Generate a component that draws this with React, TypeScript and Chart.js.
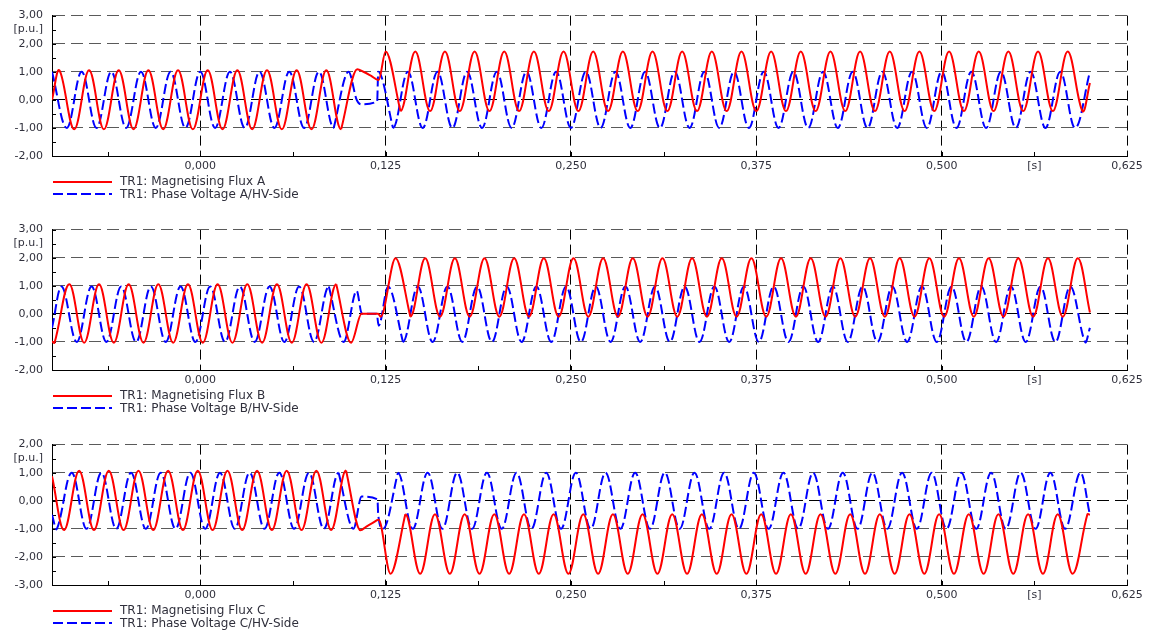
import React, { useEffect, useRef } from 'react';
import { Chart, registerables } from 'chart.js';

Chart.register(...registerables);
Chart.defaults.font.family = '"DejaVu Sans", sans-serif';
Chart.defaults.font.size = 11;

// ---------- time axis (seconds) ----------
const X_MIN = -0.1;
const X_MAX = 0.625;
const X_TICKS = [-0.0625, 0, 0.0625, 0.125, 0.1875, 0.25, 0.3125, 0.375, 0.4375, 0.5, 0.5625, 0.625];
const X_TICK_LABELS = ['', '0,000', '', '0,125', '', '0,250', '', '0,375', '', '0,500', '[s]', '0,625'];

// ---------- value axes (p.u.) ----------
const Y_TICKS_AB = [-2, -1.5, -1, -0.5, 0, 0.5, 1, 1.5, 2, 2.5, 3];
const Y_LABELS_AB = ['-2,00', '', '-1,00', '', '0,00', '', '1,00', '', '2,00', '[p.u.]', '3,00'];
const Y_TICKS_C = [-3, -2.5, -2, -1.5, -1, -0.5, 0, 0.5, 1, 1.5, 2];
const Y_LABELS_C = ['-3,00', '', '-2,00', '', '-1,00', '', '0,00', '', '1,00', '[p.u.]', '2,00'];

// ---------- series: extremum / break points (time in ms, value in p.u.) ----------
const FLUX_A_MS = [
  -100, -95, -85, -75, -65, -55, -45, -35, -25, -15, -5,
  5, 15, 25, 35, 45, 55, 65, 75, 85, 95,
  105.9, 110, 115, 120.3,
  125, 135, 145, 155, 165, 175, 185, 195, 205, 215,
  225, 235, 245, 255, 265, 275, 285, 295, 305, 315,
  325, 335, 345, 355, 365, 375, 385, 395, 405, 415,
  425, 435, 445, 455, 465, 475, 485, 495, 505, 515,
  525, 535, 545, 555, 565, 575, 585, 595,
  600,
];
const FLUX_A = [
  0, 1.05, -1.05, 1.05, -1.05, 1.05, -1.05, 1.05, -1.05, 1.05, -1.05,
  1.05, -1.05, 1.05, -1.05, 1.05, -1.05, 1.05, -1.05, 1.05, -1.05,
  1.09, 1.0, 0.86, 0.7,
  1.72, -0.4, 1.72, -0.4, 1.72, -0.4, 1.72, -0.4, 1.72, -0.4,
  1.72, -0.4, 1.72, -0.4, 1.72, -0.4, 1.72, -0.4, 1.72, -0.4,
  1.72, -0.4, 1.72, -0.4, 1.72, -0.4, 1.72, -0.4, 1.72, -0.4,
  1.72, -0.4, 1.72, -0.4, 1.72, -0.4, 1.72, -0.4, 1.72, -0.4,
  1.72, -0.4, 1.72, -0.4, 1.72, -0.4, 1.72, -0.4,
  0.6,
];
// [last regular point before the switching event, first regular point after it]
const FLUX_A_SPLIT = [20, 26];

const VOLT_A_MS = [
  -100, -90, -80, -70, -60, -50, -40, -30, -20, -10,
  0, 10, 20, 30, 40, 50, 60, 70, 80, 90, 100,
  105.5, 108.4, 119.3,
  120, 130, 140, 150, 160, 170, 180, 190, 200, 210,
  220, 230, 240, 250, 260, 270, 280, 290, 300, 310,
  320, 330, 340, 350, 360, 370, 380, 390, 400, 410,
  420, 430, 440, 450, 460, 470, 480, 490, 500, 510,
  520, 530, 540, 550, 560, 570, 580, 590, 600,
];
const VOLT_A = [
  1, -1, 1, -1, 1, -1, 1, -1, 1, -1,
  1, -1, 1, -1, 1, -1, 1, -1, 1, -1, 1,
  0, -0.16, -0.05,
  1, -1, 1, -1, 1, -1, 1, -1, 1, -1,
  1, -1, 1, -1, 1, -1, 1, -1, 1, -1,
  1, -1, 1, -1, 1, -1, 1, -1, 1, -1,
  1, -1, 1, -1, 1, -1, 1, -1, 1, -1,
  1, -1, 1, -1, 1, -1, 1, -1, 1,
];
const VOLT_A_SPLIT = [19, 25];

const FLUX_B_MS = [
  -100,
  -98.3, -88.3, -78.3, -68.3, -58.3, -48.3, -38.3, -28.3, -18.3, -8.3,
  1.7, 11.7, 21.7, 31.7, 41.7, 51.7, 61.7, 71.7, 81.7, 91.7, 101.7,
  108.8, 120, 121.7,
  131.7, 141.7, 151.7, 161.7, 171.7, 181.7, 191.7, 201.7, 211.7, 221.7,
  231.7, 241.7, 251.7, 261.7, 271.7, 281.7, 291.7, 301.7, 311.7, 321.7,
  331.7, 341.7, 351.7, 361.7, 371.7, 381.7, 391.7, 401.7, 411.7, 421.7,
  431.7, 441.7, 451.7, 461.7, 471.7, 481.7, 491.7, 501.7, 511.7, 521.7,
  531.7, 541.7, 551.7, 561.7, 571.7, 581.7, 591.7,
  600,
];
const FLUX_B = [
  -0.98,
  -1.03, 1.05, -1.03, 1.05, -1.03, 1.05, -1.03, 1.05, -1.03, 1.05,
  -1.03, 1.05, -1.03, 1.05, -1.03, 1.05, -1.03, 1.05, -1.03, 1.05, -1.03,
  0, 0, -0.1,
  1.98, -0.1, 1.98, -0.1, 1.98, -0.1, 1.98, -0.1, 1.98, -0.1,
  1.98, -0.1, 1.98, -0.1, 1.98, -0.1, 1.98, -0.1, 1.98, -0.1,
  1.98, -0.1, 1.98, -0.1, 1.98, -0.1, 1.98, -0.1, 1.98, -0.1,
  1.98, -0.1, 1.98, -0.1, 1.98, -0.1, 1.98, -0.1, 1.98, -0.1,
  1.98, -0.1, 1.98, -0.1, 1.98, -0.1, 1.98,
  0.05,
];
const FLUX_B_SPLIT = [20, 26];

const VOLT_B_MS = [
  -100,
  -93.3, -83.3, -73.3, -63.3, -53.3, -43.3, -33.3, -23.3, -13.3, -3.3,
  6.7, 16.7, 26.7, 36.7, 46.7, 56.7, 66.7, 76.7, 86.7, 96.7,
  105.5, 109, 119, 120.3,
  126.7, 136.7, 146.7, 156.7, 166.7, 176.7, 186.7, 196.7, 206.7, 216.7,
  226.7, 236.7, 246.7, 256.7, 266.7, 276.7, 286.7, 296.7, 306.7, 316.7,
  326.7, 336.7, 346.7, 356.7, 366.7, 376.7, 386.7, 396.7, 406.7, 416.7,
  426.7, 436.7, 446.7, 456.7, 466.7, 476.7, 486.7, 496.7, 506.7, 516.7,
  526.7, 536.7, 546.7, 556.7, 566.7, 576.7, 586.7, 596.7,
  600,
];
const VOLT_B = [
  -0.5,
  0.97, -1, 0.97, -1, 0.97, -1, 0.97, -1, 0.97, -1,
  0.97, -1, 0.97, -1, 0.97, -1, 0.97, -1, 0.97, -1,
  0.82, 0, 0, -0.42,
  0.97, -1, 0.97, -1, 0.97, -1, 0.97, -1, 0.97, -1,
  0.97, -1, 0.97, -1, 0.97, -1, 0.97, -1, 0.97, -1,
  0.97, -1, 0.97, -1, 0.97, -1, 0.97, -1, 0.97, -1,
  0.97, -1, 0.97, -1, 0.97, -1, 0.97, -1, 0.97, -1,
  0.97, -1, 0.97, -1, 0.97, -1, 0.97, -1,
  -0.5,
];
const VOLT_B_SPLIT = [19, 26];

const FLUX_C_MS = [
  -100,
  -91.7, -81.7, -71.7, -61.7, -51.7, -41.7, -31.7, -21.7, -11.7, -1.7,
  8.3, 18.3, 28.3, 38.3, 48.3, 58.3, 68.3, 78.3, 88.3, 98.3,
  108, 112, 116, 120.3,
  128.3, 138.3, 148.3, 158.3, 168.3, 178.3, 188.3, 198.3, 208.3, 218.3,
  228.3, 238.3, 248.3, 258.3, 268.3, 278.3, 288.3, 298.3, 308.3, 318.3,
  328.3, 338.3, 348.3, 358.3, 368.3, 378.3, 388.3, 398.3, 408.3, 418.3,
  428.3, 438.3, 448.3, 458.3, 468.3, 478.3, 488.3, 498.3, 508.3, 518.3,
  528.3, 538.3, 548.3, 558.3, 568.3, 578.3, 588.3, 598.3,
  600,
];
const FLUX_C = [
  0.87,
  -1.04, 1.07, -1.04, 1.07, -1.04, 1.07, -1.04, 1.07, -1.04, 1.07,
  -1.04, 1.07, -1.04, 1.07, -1.04, 1.07, -1.04, 1.07, -1.04, 1.08,
  -1.05, -0.92, -0.8, -0.68,
  -2.6, -0.48, -2.6, -0.48, -2.6, -0.48, -2.6, -0.48, -2.6, -0.48,
  -2.6, -0.48, -2.6, -0.48, -2.6, -0.48, -2.6, -0.48, -2.6, -0.48,
  -2.6, -0.48, -2.6, -0.48, -2.6, -0.48, -2.6, -0.48, -2.6, -0.48,
  -2.6, -0.48, -2.6, -0.48, -2.6, -0.48, -2.6, -0.48, -2.6, -0.48,
  -2.6, -0.48, -2.6, -0.48, -2.6, -0.48, -2.6, -0.48,
  -0.5,
];
const FLUX_C_SPLIT = [20, 26];

const VOLT_C_MS = [
  -100,
  -96.7, -86.7, -76.7, -66.7, -56.7, -46.7, -36.7, -26.7, -16.7, -6.7,
  3.3, 13.3, 23.3, 33.3, 43.3, 53.3, 63.3, 73.3, 83.3, 93.3, 103.3,
  108.8, 119.5, 120,
  123.3, 133.3, 143.3, 153.3, 163.3, 173.3, 183.3, 193.3, 203.3, 213.3,
  223.3, 233.3, 243.3, 253.3, 263.3, 273.3, 283.3, 293.3, 303.3, 313.3,
  323.3, 333.3, 343.3, 353.3, 363.3, 373.3, 383.3, 393.3, 403.3, 413.3,
  423.3, 433.3, 443.3, 453.3, 463.3, 473.3, 483.3, 493.3, 503.3, 513.3,
  523.3, 533.3, 543.3, 553.3, 563.3, 573.3, 583.3, 593.3,
  600,
];
const VOLT_C = [
  -0.5,
  -1, 1, -1, 1, -1, 1, -1, 1, -1, 1,
  -1, 1, -1, 1, -1, 1, -1, 1, -1, 1, -1,
  0.15, 0.05, -0.5,
  -1, 1, -1, 1, -1, 1, -1, 1, -1, 1,
  -1, 1, -1, 1, -1, 1, -1, 1, -1, 1,
  -1, 1, -1, 1, -1, 1, -1, 1, -1, 1,
  -1, 1, -1, 1, -1, 1, -1, 1, -1, 1,
  -1, 1, -1, 1, -1, 1, -1, 1,
  -0.5,
];
const VOLT_C_SPLIT = [20, 26];

const LABEL_FLUX = ['TR1: Magnetising Flux A', 'TR1: Magnetising Flux B', 'TR1: Magnetising Flux C'];
const LABEL_VOLT = ['TR1: Phase Voltage A/HV-Side', 'TR1: Phase Voltage B/HV-Side', 'TR1: Phase Voltage C/HV-Side'];

// ---------- styling ----------
const RED = '#ff0000';
const BLUE = '#0000ff';
const TEXT_COLOR = '#30303c';
const H_GRID = '#5a5a5a';
const V_GRID = '#000000';
const CLEAR = 'rgba(0,0,0,0)';
const WAVE_TENSION = 0.37;

type Series = { label: string; ms: number[]; v: number[]; split: number[]; color: string; dash: number[] };
type PanelSpec = {
  top: number;
  height: number;
  padBottom: number;
  yMin: number;
  yMax: number;
  yTicks: number[];
  yLabels: string[];
  series: Series[];
};

const PANELS: PanelSpec[] = [
  {
    top: 0, height: 214, padBottom: 38, yMin: -2, yMax: 3, yTicks: Y_TICKS_AB, yLabels: Y_LABELS_AB,
    series: [
      { label: LABEL_FLUX[0], ms: FLUX_A_MS, v: FLUX_A, split: FLUX_A_SPLIT, color: RED, dash: [] },
      { label: LABEL_VOLT[0], ms: VOLT_A_MS, v: VOLT_A, split: VOLT_A_SPLIT, color: BLUE, dash: [10, 4] },
    ],
  },
  {
    top: 214, height: 214, padBottom: 38, yMin: -2, yMax: 3, yTicks: Y_TICKS_AB, yLabels: Y_LABELS_AB,
    series: [
      { label: LABEL_FLUX[1], ms: FLUX_B_MS, v: FLUX_B, split: FLUX_B_SPLIT, color: RED, dash: [] },
      { label: LABEL_VOLT[1], ms: VOLT_B_MS, v: VOLT_B, split: VOLT_B_SPLIT, color: BLUE, dash: [10, 4] },
    ],
  },
  {
    top: 429, height: 201, padBottom: 25, yMin: -3, yMax: 2, yTicks: Y_TICKS_C, yLabels: Y_LABELS_C,
    series: [
      { label: LABEL_FLUX[2], ms: FLUX_C_MS, v: FLUX_C, split: FLUX_C_SPLIT, color: RED, dash: [] },
      { label: LABEL_VOLT[2], ms: VOLT_C_MS, v: VOLT_C, split: VOLT_C_SPLIT, color: BLUE, dash: [10, 4] },
    ],
  },
];

function toPoints(ms: number[], v: number[]) {
  return ms.map((m, i) => ({ x: m / 1000, y: v[i] }));
}

// steady-state parts use a smooth spline, the switching transient a monotone one
function seriesDatasets(s: Series) {
  const pts = toPoints(s.ms, s.v);
  const [a, b] = s.split;
  const base = {
    label: s.label,
    borderColor: s.color,
    backgroundColor: s.color,
    borderWidth: 2,
    borderDash: s.dash,
    pointRadius: 0,
    pointHoverRadius: 0,
    fill: false,
  };
  return [
    {
      ...base,
      data: pts.slice(0, a + 2),
      tension: WAVE_TENSION,
      segment: { borderColor: (c: any) => (c.p0DataIndex >= a ? CLEAR : undefined) },
    },
    {
      ...base,
      data: pts.slice(a, b + 1),
      cubicInterpolationMode: 'monotone',
    },
    {
      ...base,
      data: pts.slice(b - 1),
      tension: WAVE_TENSION,
      segment: { borderColor: (c: any) => (c.p0DataIndex === 0 ? CLEAR : undefined) },
    },
  ];
}

const isMajorX = (v: number) => Math.abs(v / 0.125 - Math.round(v / 0.125)) < 1e-9;

const innerTicks = {
  id: 'innerTicks',
  beforeDatasetsDraw(chart: any) {
    const { ctx, chartArea } = chart;
    const xs = chart.scales.x;
    const ys = chart.scales.y;
    ctx.save();
    ctx.strokeStyle = '#000';
    ctx.lineWidth = 1;
    ctx.setLineDash([]);
    ctx.beginPath();
    xs.ticks.forEach((t: any) => {
      const px = Math.round(xs.getPixelForValue(t.value)) + 0.5;
      ctx.moveTo(px, chartArea.bottom);
      ctx.lineTo(px, chartArea.bottom - 4);
    });
    ys.ticks.forEach((t: any) => {
      const py = Math.round(ys.getPixelForValue(t.value)) + 0.5;
      ctx.moveTo(chartArea.left, py);
      ctx.lineTo(chartArea.left + 4, py);
    });
    ctx.stroke();
    ctx.restore();
  },
};

function makeLegend(series: Series[]) {
  return {
    id: 'panelLegend',
    afterDraw(chart: any) {
      const { ctx, chartArea } = chart;
      ctx.save();
      series.forEach((s, i) => {
        const ly = Math.round(chartArea.bottom) + 26 + i * 12;
        ctx.strokeStyle = s.color;
        ctx.lineWidth = 2;
        ctx.setLineDash(s.dash);
        ctx.beginPath();
        ctx.moveTo(chartArea.left + 1, ly);
        ctx.lineTo(chartArea.left + 60, ly);
        ctx.stroke();
        ctx.setLineDash([]);
        ctx.fillStyle = TEXT_COLOR;
        ctx.font = '12px "DejaVu Sans", sans-serif';
        ctx.textAlign = 'left';
        ctx.textBaseline = 'middle';
        ctx.fillText(s.label, chartArea.left + 68, ly + i);
      });
      ctx.restore();
    },
  };
}

function Panel({ spec }: { spec: PanelSpec }) {
  const ref = useRef<HTMLCanvasElement>(null);
  useEffect(() => {
    const canvas = ref.current;
    if (!canvas) return;
    const datasets: any[] = [];
    spec.series.forEach((s) => datasets.push(...seriesDatasets(s)));
    const chart = new Chart(canvas, {
      type: 'line',
      data: { datasets },
      options: {
        responsive: false,
        maintainAspectRatio: false,
        animation: false,
        devicePixelRatio: 1,
        events: [],
        layout: { padding: { top: 14, left: 0, right: 24, bottom: spec.padBottom } },
        plugins: {
          legend: { display: false },
          tooltip: { enabled: false },
          title: { display: false },
        },
        scales: {
          x: {
            type: 'linear',
            min: X_MIN,
            max: X_MAX,
            afterBuildTicks: (scale: any) => {
              scale.ticks = X_TICKS.map((v) => ({ value: v }));
            },
            afterFit: (scale: any) => {
              scale.height = 20;
            },
            ticks: {
              autoSkip: false,
              maxRotation: 0,
              minRotation: 0,
              padding: 4,
              color: TEXT_COLOR,
              font: { family: '"DejaVu Sans", sans-serif', size: 11 },
              callback: (_v: any, i: number) => X_TICK_LABELS[i],
            },
            grid: {
              drawTicks: false,
              tickLength: 0,
              lineWidth: 1,
              color: (c: any) => (c.tick && isMajorX(c.tick.value) ? V_GRID : CLEAR),
            },
            border: { display: true, color: '#000', width: 1, dash: [10, 5] },
          },
          y: {
            type: 'linear',
            min: spec.yMin,
            max: spec.yMax,
            afterBuildTicks: (scale: any) => {
              scale.ticks = spec.yTicks.map((v) => ({ value: v }));
            },
            afterFit: (scale: any) => {
              scale.width = 52;
            },
            ticks: {
              autoSkip: false,
              padding: 9,
              color: TEXT_COLOR,
              font: { family: '"DejaVu Sans", sans-serif', size: 11 },
              callback: (_v: any, i: number) => spec.yLabels[i],
            },
            grid: {
              drawTicks: false,
              tickLength: 0,
              lineWidth: 1,
              color: (c: any) => {
                const v = c.tick ? c.tick.value : 0.5;
                if (!Number.isInteger(v)) return CLEAR;
                return v === 0 ? '#000000' : H_GRID;
              },
            },
            border: { display: true, color: '#000', width: 1, dash: [12, 6] },
          },
        },
      },
      plugins: [innerTicks, makeLegend(spec.series)],
    } as any);
    return () => chart.destroy();
  }, [spec]);
  return (
    <canvas
      ref={ref}
      width={1151}
      height={spec.height}
      style={{ position: 'absolute', left: 0, top: spec.top, width: 1151, height: spec.height, display: 'block' }}
    />
  );
}

export default function App() {
  return (
    <div
      style={{
        position: 'fixed',
        left: 0,
        top: 0,
        width: 1151,
        height: 630,
        overflow: 'hidden',
        background: '#ffffff',
      }}
    >
      {PANELS.map((p, i) => (
        <Panel key={i} spec={p} />
      ))}
    </div>
  );
}
